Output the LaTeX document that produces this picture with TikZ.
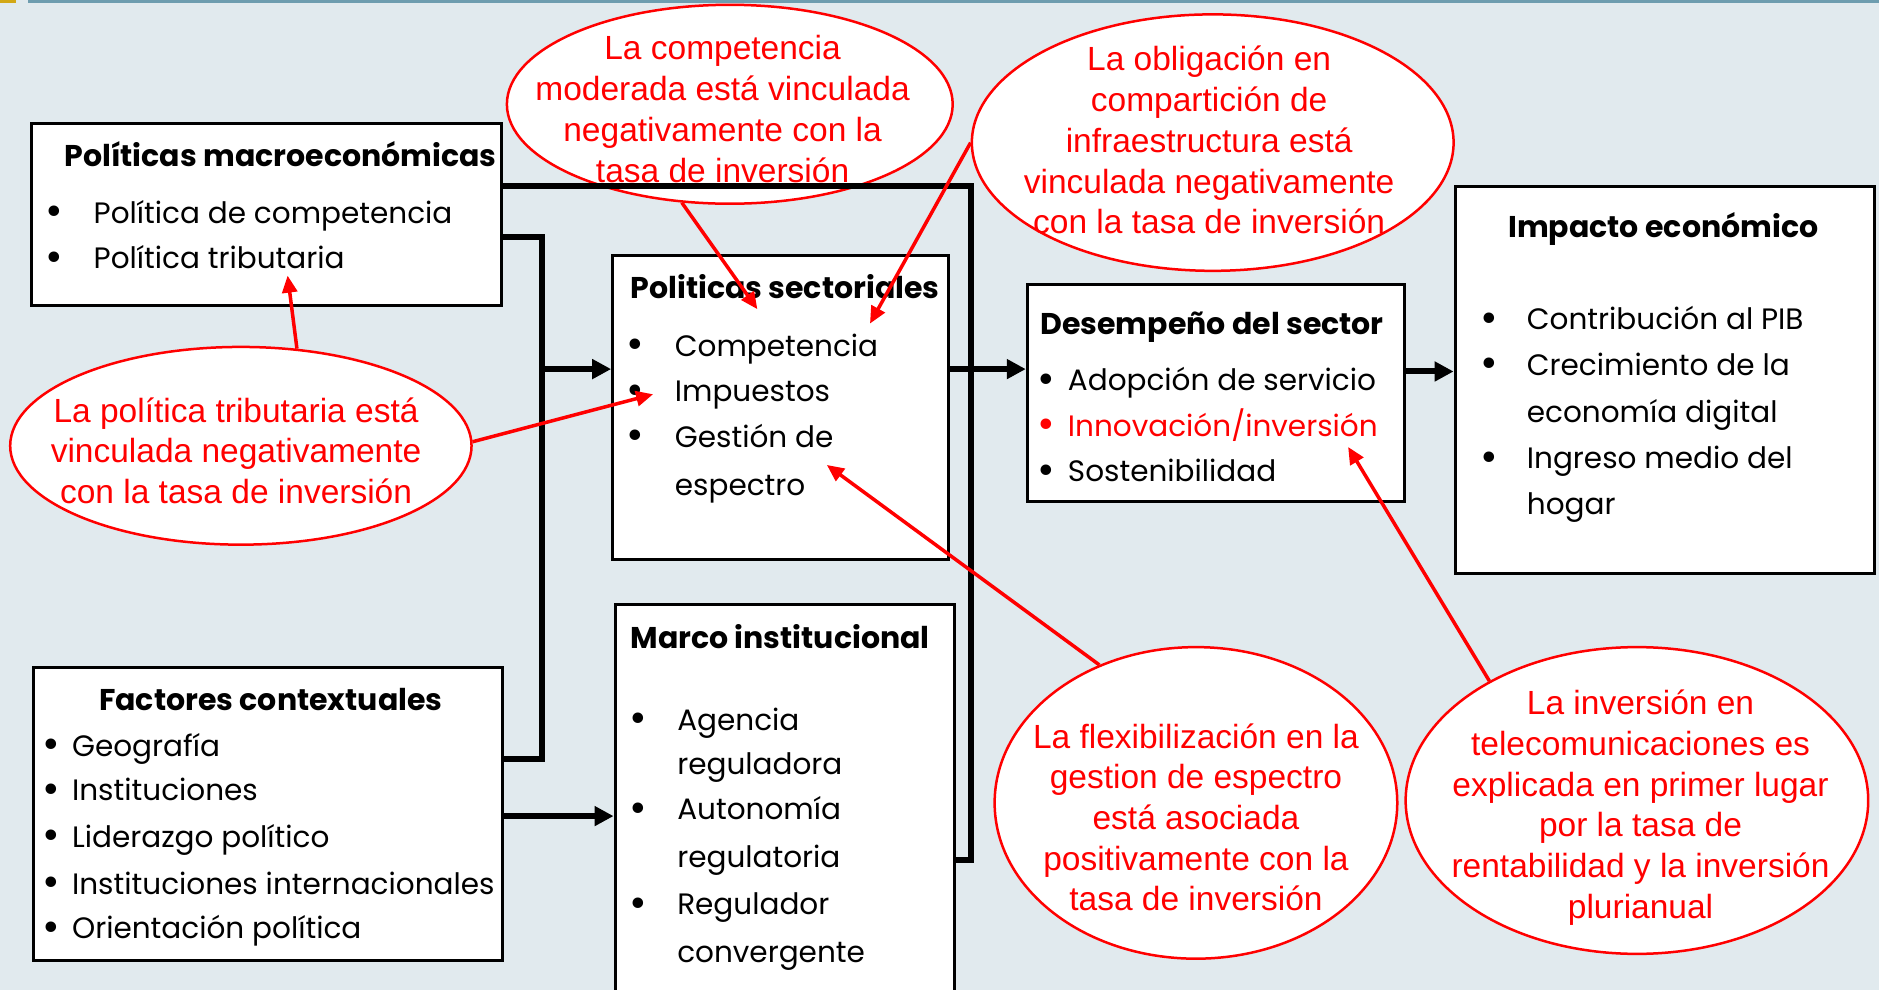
\documentclass[tikz,border=0pt]{standalone}
\usepackage{fontspec}
\setmainfont{Poppins}
\newfontfamily\redfont{Liberation Sans}
\usetikzlibrary{arrows.meta,shapes.geometric}
\definecolor{bg}{HTML}{E1EAEE}
\definecolor{barblue}{HTML}{6E9DAF}
\definecolor{baryel}{HTML}{D2A815}
\definecolor{redc}{HTML}{FF0000}
\def\uu{1.1983pt}
\newcommand\bulletmark{\raisebox{-2.5pt}{\scalebox{1.45}{\textbullet}}}
\tikzset{
 box/.style={draw=black, line width=3pt, fill=white, rectangle, inner sep=0pt, anchor=north west},
 conn/.style={line width=6pt, draw=black},
 carrow/.style={conn, -{Triangle[length=19pt,width=19pt]}},
 bub/.style={ellipse, draw=redc, line width=2.5pt, fill=white, inner sep=0pt},
 bubtxt/.style={text=redc, font=\redfont\fontsize{33.5}{40.7}\selectfont, align=center, inner sep=0pt},
 rarrow/.style={draw=redc, line width=3.5pt, -{Triangle[length=17pt,width=15pt]}},
 ttl/.style={font=\bfseries\fontsize{30}{36}\selectfont, inner sep=0pt, text height=0.7em, text depth=0pt, yshift=-7.5pt},
 itm/.style={font=\fontsize{29.5}{36}\selectfont, inner sep=0pt, anchor=west, text height=0.7em, text depth=0pt, yshift=-7.5pt},
}
\begin{document}
\begin{tikzpicture}[x=1.1983pt,y=-1.1983pt]
\useasboundingbox (0,0) rectangle (1568,826);
\clip (0,0) rectangle (1568,826);
\fill[bg] (0,0) rectangle (1568,826);
\fill[baryel] (0,0) rectangle (13,2.2);
\fill[barblue] (23,0) rectangle (1568,2.2);

% ellipses (drawn first)
\node[bub, minimum width=372*\uu, minimum height=166*\uu] (e1) at (609,87) {};
\node[bub, minimum width=402*\uu, minimum height=214*\uu] (e2) at (1012,119) {};
\node[bub, minimum width=385*\uu, minimum height=165*\uu] (e3) at (201,372) {};
\node[bub, minimum width=336*\uu, minimum height=260*\uu] (e4) at (998,670) {};
\node[bub, minimum width=386*\uu, minimum height=256*\uu] (e5) at (1366,668) {};

\node[bubtxt] (e1t) at (603,91) {La competencia\\moderada está vinculada\\negativamente con la\\tasa de inversión};
\node[bubtxt] (e2t) at (1009,117) {La obligación en\\compartición de\\infraestructura está\\vinculada negativamente\\con la tasa de inversión};
\node[bubtxt] (e3t) at (197,376) {La política tributaria está\\vinculada negativamente\\con la tasa de inversión};
\node[bubtxt] (e4t) at (998,682) {La flexibilización en la\\gestion de espectro\\está asociada\\positivamente con la\\tasa de inversión};
\node[bubtxt] (e5t) at (1369,674) {La inversión en\\telecomunicaciones es\\explicada en primer lugar\\por la tasa de\\rentabilidad y la inversión\\plurianual};

% boxes
\node[box, minimum width=392*\uu, minimum height=152*\uu] (mac) at (25,102) {};
\node[box, minimum width=280*\uu, minimum height=254*\uu] (sec) at (510,212) {};
\node[box, minimum width=283*\uu, minimum height=340*\uu] (mar) at (512,503) {};
\node[box, minimum width=391*\uu, minimum height=244*\uu] (fac) at (27,556) {};
\node[box, minimum width=315*\uu, minimum height=181*\uu] (des) at (856,236) {};
\node[box, minimum width=350*\uu, minimum height=323*\uu] (imp) at (1213,154) {};

% titles
\node[ttl] (macT) at (234,130) {Políticas macroeconómicas};
\node[ttl, anchor=west] (secT) at (526,240) {Politicas sectoriales};
\node[ttl, anchor=west] (marT) at (526,532) {Marco institucional};
\node[ttl] (facT) at (226,584) {Factores contextuales};
\node[ttl, anchor=west] (desT) at (868,270) {Desempeño del sector};
\node[ttl] (impT) at (1388,189) {Impacto económico};

% items
\foreach \n/\yy/\t in {1/177/{Política de competencia},2/215/{Política tributaria}}{
  \node[itm] (macb\n) at (38,\yy) {\bulletmark};
  \node[itm] (maci\n) at (78,\yy) {\t};}
\foreach \n/\yy/\t in {1/288/{Competencia},2/326/{Impuestos},3/364/{Gestión de}}{
  \node[itm] (secb\n) at (523,\yy) {\bulletmark};
  \node[itm] (seci\n) at (563,\yy) {\t};}
\node[itm] (seci4) at (563,404) {espectro};
\foreach \n/\yy in {1/600,2/675,3/754}{
  \node[itm] (marb\n) at (525,\yy) {\bulletmark};}
\foreach \n/\yy/\t in {1/600/{Agencia},2/637/{reguladora},3/675/{Autonomía},4/715/{regulatoria},5/754/{Regulador},6/794/{convergente}}{
  \node[itm] (mari\n) at (565,\yy) {\t};}
\foreach \n/\yy/\t in {1/622/{Geografía},2/659/{Instituciones},3/698/{Liderazgo político},4/737/{Instituciones internacionales},5/774/{Orientación política}}{
  \node[itm] (facb\n) at (35,\yy) {\bulletmark};
  \node[itm] (faci\n) at (60,\yy) {\t};}
\node[itm] (desb1) at (866,317) {\bulletmark};
\node[itm] (desi1) at (891,317) {Adopción de servicio};
\node[itm, text=redc] (desb2) at (866,355) {\bulletmark};
\node[itm, text=redc] (desi2) at (891,355) {Innovación/inversión};
\node[itm] (desb3) at (866,393) {\bulletmark};
\node[itm] (desi3) at (891,393) {Sostenibilidad};
\foreach \n/\yy in {1/266,2/304,3/382}{
  \node[itm] (impb\n) at (1235,\yy) {\bulletmark};}
\foreach \n/\yy/\t in {1/266/{Contribución al PIB},2/304/{Crecimiento de la},3/343/{economía digital},4/382/{Ingreso medio del},5/420/{hogar}}{
  \node[itm] (impi\n) at (1274,\yy) {\t};}

% black connectors
\coordinate (k1) at (810,155);
\coordinate (k2) at (810,718);
\coordinate (k3) at (452,198);
\coordinate (k4) at (452,633);
\coordinate (k5) at (452,308);
\coordinate (y681) at (0,681);
\coordinate (y308) at (0,308);
\coordinate (y310) at (0,310);
\draw[conn] (mac.east |- k1) -- (k1) -- (k2) -- (mar.east |- k2);
\draw[conn] (mac.east |- k3) -- (k3) -- (k4) -- (fac.east |- k4);
\draw[carrow] (k5) -- (sec.west |- k5);
\draw[carrow] (fac.east |- y681) -- (mar.west |- y681);
\draw[carrow] (sec.east |- y308) -- (des.west |- y308);
\draw[carrow] (des.east |- y310) -- (imp.west |- y310);

% red arrows
\coordinate (t1) at (632,258);
\coordinate (t2) at (726,270);
\coordinate (t3) at (545,329);
\coordinate (t4) at (240,230);
\coordinate (t5) at (690,388);
\coordinate (t6) at (1125,373);
\draw[rarrow] (e1.244) -- (t1);
\draw[rarrow] (e2.180) -- (t2);
\draw[rarrow] (e3.1) -- (t3);
\draw[rarrow] (e3.60) -- (t4);
\draw[rarrow] (e4.125) -- (t5);
\draw[rarrow] (e5.141) -- (t6);
\end{tikzpicture}
\end{document}
